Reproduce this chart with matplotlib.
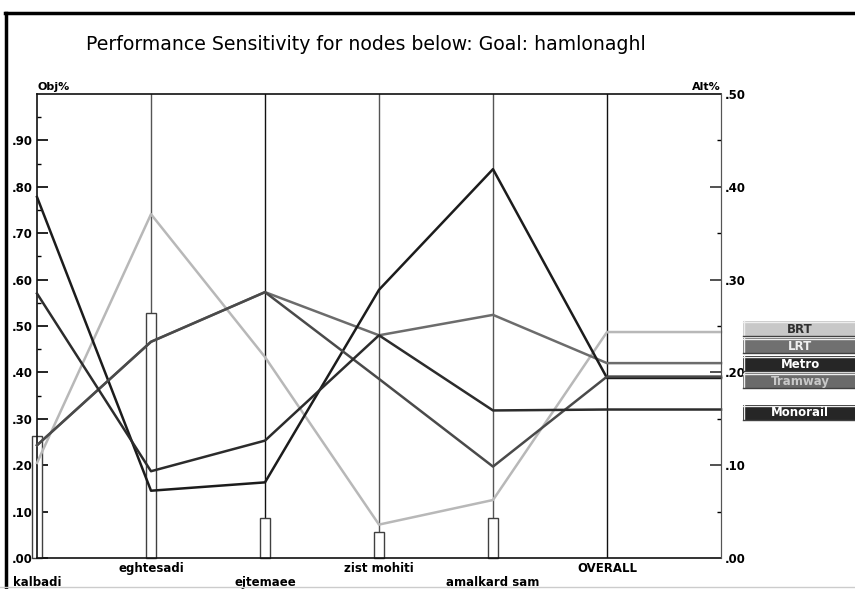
import matplotlib
matplotlib.use('Agg')
import matplotlib.pyplot as plt
import numpy as np
from matplotlib.patches import Rectangle
from matplotlib.lines import Line2D

# дані
nodes = ['kalbadi', 'eghtesadi', 'ejtemaee', 'zist mohiti', 'amalkard sam', 'OVERALL']
node_weights = [0.262, 0.528, 0.087, 0.057, 0.087]

alternatives = ['BRT', 'LRT', 'Metro', 'Tramway', 'Monorail']
brt = [0.205, 0.741, 0.433, 0.072, 0.125, 0.487]
lrt = [0.243, 0.466, 0.573, 0.480, 0.524, 0.420]
metro = [0.778, 0.145, 0.163, 0.578, 0.838, 0.388]
tramway = [0.243, 0.466, 0.573, 0.386, 0.197, 0.391]
monorail = [0.570, 0.187, 0.253, 0.480, 0.318, 0.320]

left_ticks = np.arange(0, 0.95, 0.1)
right_ticks = np.arange(0, 0.55, 0.1)

W, H = 855, 589
line_colors = ['#b8b8b8', '#6c6c6c', '#1c1c1c', '#4a4a4a', '#2c2c2c']
node_line_colors = ['#555555', '#111111', '#555555', '#555555', '#111111']
box_colors = ['#c8c8c8', '#707070', '#262626', '#6a6a6a', '#262626']
box_text = ['#303030', '#f0f0f0', '#ffffff', '#c8c8c8', '#ffffff']
box_tops = [321, 338, 356, 373, 405]


def fx(px):
    return px / W


def fy(py):
    return 1 - py / H


def tick_fmt(v):
    return '.%02d' % int(round(v * 100))


fig = plt.figure(figsize=(W / 100, H / 100), dpi=100)
ax = fig.add_axes([fx(37), fy(558), fx(721) - fx(37), fy(94) - fy(558)])
ax.set_xlim(0, 6)
ax.set_ylim(0, 1)

for side in ['left', 'top', 'bottom']:
    ax.spines[side].set_color('#111111')
    ax.spines[side].set_linewidth(1.2)
ax.spines['right'].set_color('#555555')

# вертикальні лінії вузлів
for i in range(1, len(nodes)):
    ax.axvline(i, color=node_line_colors[i - 1], lw=1, zorder=1)

# ваги вузлів (стовпчики)
ax.bar(np.arange(len(node_weights)), node_weights, width=0.08, color='white',
       edgecolor='#404040', linewidth=1, zorder=2, clip_on=False)

# лінії альтернатив, OVERALL продовжується до правої осі
xs = np.arange(len(nodes) + 1)
for vals, c in zip([brt, lrt, metro, tramway, monorail], line_colors):
    ax.plot(xs, list(vals) + [vals[-1]], color=c, lw=1.8, zorder=3, clip_on=False)

ax.set_xticks([])
ax.set_yticks(left_ticks)
ax.set_yticklabels([tick_fmt(v) for v in left_ticks])
ax.set_yticks(np.arange(0.05, 1.0, 0.1), minor=True)
ax.tick_params(axis='y', which='major', direction='in', length=8, width=1.2, pad=3,
               labelsize=8.5)
ax.tick_params(axis='y', which='minor', direction='in', length=3, width=1)
for lbl in ax.get_yticklabels():
    lbl.set_fontweight('bold')

ax2 = ax.twinx()
ax2.set_ylim(0, 0.5)
ax2.set_yticks(right_ticks)
ax2.set_yticklabels([tick_fmt(v) for v in right_ticks])
ax2.set_yticks(np.arange(0.05, 0.5, 0.1), minor=True)
ax2.tick_params(axis='y', which='major', direction='in', length=8, width=1.2, pad=3,
                labelsize=8.5, color='#333333')
ax2.tick_params(axis='y', which='minor', direction='in', length=3, width=1)
for lbl in ax2.get_yticklabels():
    lbl.set_fontweight('bold')
for side in ['left', 'top', 'bottom']:
    ax2.spines[side].set_visible(False)
ax2.spines['right'].set_color('#555555')

ax.text(0, 1.004, 'Obj%', transform=ax.transAxes, ha='left', va='bottom',
        fontsize=8, fontweight='bold')
ax.text(1, 1.004, 'Alt%', transform=ax.transAxes, ha='right', va='bottom',
        fontsize=8, fontweight='bold')

# підписи вузлів у два ряди
for i, name in enumerate(nodes):
    yy = -0.052 if i % 2 == 0 else -0.022
    ax.text(i, yy, name, transform=ax.get_xaxis_transform(), ha='center', va='center',
            fontsize=8.5, fontweight='bold')

# заголовок
fig.text(fx(366), fy(45), 'Performance Sensitivity for nodes below: Goal: hamlonaghl',
         ha='center', va='center', fontsize=13.6)

# легенда з кнопок
for name, top, bc, tc in zip(alternatives, box_tops, box_colors, box_text):
    h = 15
    fig.add_artist(Rectangle((fx(743), fy(top + h)), fx(W) - fx(743), fy(top) - fy(top + h),
                             facecolor=bc, edgecolor='none'))
    fig.add_artist(Line2D([fx(743), fx(W)], [fy(top + 0.5)] * 2, color='#eeeeee', lw=1))
    fig.add_artist(Line2D([fx(743.5)] * 2, [fy(top), fy(top + h)], color='#eeeeee', lw=1))
    fig.add_artist(Line2D([fx(743), fx(W)], [fy(top + h - 0.5)] * 2, color='#404040', lw=1))
    fig.text(fx(800), fy(top + h / 2 + 0.5), name, ha='center', va='center',
             fontsize=8.5, fontweight='bold', color=tc)

# рамка вікна
fig.add_artist(Line2D([fx(6), fx(6)], [0, fy(13)], color='black', lw=2.5))
fig.add_artist(Line2D([fx(5), 1], [fy(13), fy(13)], color='black', lw=2.5))
fig.add_artist(Line2D([0, 1], [fy(587), fy(587)], color='#cccccc', lw=1))

fig.savefig('out.png', dpi=100)
